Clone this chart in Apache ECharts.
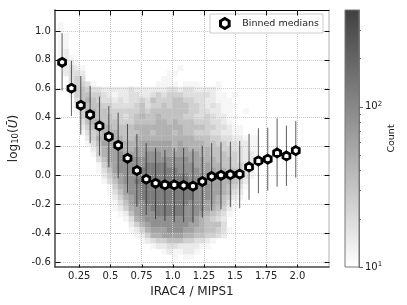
<!DOCTYPE html>
<html><head><meta charset="utf-8">
<style>html,body{margin:0;padding:0;background:#fff}#c{width:407px;height:305px;filter:blur(0.3px)}</style>
<script src="https://cdn.jsdelivr.net/npm/echarts@6/dist/echarts.min.js"></script></head>
<body><div id="c"></div>
<script>
const xTicks=[0.25,0.5,0.75,1.0,1.25,1.5,1.75,2.0];
const yTicks=[-0.6,-0.4,-0.2,0,0.2,0.4,0.6,0.8,1.0];
const medianX=[0.1125,0.1875,0.2625,0.3375,0.4125,0.4875,0.5625,0.6375,0.7125,0.7875,0.8625,0.9375,1.0125,1.0875,1.1625,1.2375,1.3125,1.3875,1.4625,1.5375,1.6125,1.6875,1.7625,1.8375,1.9125,1.9875];
const medianY=[0.783,0.603,0.485,0.42,0.342,0.268,0.208,0.118,0.033,-0.027,-0.055,-0.066,-0.066,-0.07,-0.075,-0.043,-0.008,0.0,0.005,0.008,0.058,0.10,0.112,0.155,0.134,0.171];
const errLow=[0.587,0.411,0.282,0.222,0.136,0.056,-0.02,-0.12,-0.217,-0.274,-0.304,-0.316,-0.325,-0.325,-0.328,-0.293,-0.244,-0.235,-0.221,-0.228,-0.17,-0.124,-0.106,-0.078,-0.073,-0.016];
const errHigh=[0.984,0.792,0.688,0.619,0.545,0.48,0.434,0.356,0.287,0.222,0.19,0.176,0.19,0.19,0.183,0.204,0.222,0.229,0.233,0.238,0.287,0.326,0.33,0.395,0.344,0.377];
const levelCounts=[0,12,15,19,25,33,44,60,85,125];
const densityRows=[
"1000000000000000000000000000000000000000",
"1000000000000000000000000000000000000000",
"1100000000000000000000000000000000000000",
"1100000000000000000000000000000000000000",
"1100000000000000000000000000000000000000",
"1200000000000000000000000000000000000000",
"1210000000000000000000000000000000000000",
"1221000000000000000000000000000000000000",
"0232100000000000000000100000000000000000",
"0233200000000000000011000000000000000000",
"0034300000000000000110000000000000000000",
"0034431000000000001111011100010000000000",
"0024543322222322222233233222210000000000",
"0014554432122332234344433333211010000000",
"0003565433232334354445544332211100000000",
"0002555544333345344545554432321110000000",
"0001466554444445455555554433221100100000",
"0000456555443456556555544334322110000000",
"0000356655544455556656555444332100000000",
"0000245666555566666666655554433211000000",
"0000134566655556656665655444332211000000",
"0000024667665566666666666555443322111000",
"0000013577766667777776766665544332211000",
"0000002467776677777776776666554433211000",
"0000001467787777888777777766555443221000",
"0000000357788888888888887776655543221000",
"0000000146788888999988888777665544321000",
"0000000135788889999999888877766554320000",
"0000000024678889999999998888776655310000",
"0000000013578899999999998887776654200000",
"0000000001467889999999998888776543100000",
"0000000001357889999999999888776532000000",
"0000000000246789999999999888765421000000",
"0000000000135788999999998887765310000000",
"0000000000124678899999988887654210000000",
"0000000000012578889999988876543100000000",
"0000000000001367888888888765432000000000",
"0000000000000246788888887765553000000000",
"0000000000000124677788877665543100000000",
"0000000000000012466777766554432000000000",
"0000000000000001234455544332100000000000",
"0000000000000000012233222211000000000000",
"0000000000000000000121122100000000000000",
"0000000000000000000001011000000000000000"];
const binX0=0.079, binW=0.04365, binY0=1.062, binH=0.0374;
const colorbarMinorTicks=[20,30,40,50,60,70,80,90,200,300];
const cbMin=10, cbMax=400;
function grayOf(c){const t=Math.log(c/cbMin)/Math.log(cbMax/cbMin);const g=Math.round(255-191*t);return `rgb(${g},${g},${g})`;}
const cells=[];
densityRows.forEach((row,r)=>{[...row].forEach((d,c)=>{const n=levelCounts[+d];if(n>0)cells.push([binX0+c*binW,binY0-r*binH,n]);});});
const hexagon='path://M0,-1 L0.866,-0.5 L0.866,0.5 L0,1 L-0.866,0.5 L-0.866,-0.5 Z';
const font='"DejaVu Sans"';
const xMin=0.055,xMax=2.254,yMin=-0.635,yMax=1.145;
const tickMarks=[
 ...xTicks.flatMap(v=>[[v,yMin,0,-3],[v,yMax,0,5]]),
 ...yTicks.flatMap(v=>[[xMin,v,5,0],[xMax,v,-5,0]])];
const chart=echarts.init(document.getElementById('c'),null,{renderer:'canvas'});
const baseX={type:'value',min:xMin,max:xMax,gridIndex:0,z:2,axisTick:{show:false},axisLine:{onZero:false},splitLine:{show:false}};
const baseY={type:'value',min:yMin,max:yMax,gridIndex:0,z:2,axisTick:{show:false},axisLine:{onZero:false},splitLine:{show:false}};
chart.setOption({
 animation:false,
 textStyle:{fontFamily:font},
 grid:[{left:52,top:10,width:277,height:257},{left:345,top:10,width:14,height:257}],
 xAxis:[
  {...baseX,position:'bottom',name:'IRAC4 / MIPS1',nameLocation:'middle',nameGap:13,
   nameTextStyle:{fontFamily:font,fontSize:12,color:'#222'},
   axisLine:{onZero:false,lineStyle:{color:'#444',width:1.5}},
   axisTick:{show:false,customValues:xTicks},
   axisLabel:{customValues:xTicks,margin:4,fontSize:10,color:'#222',fontFamily:font,formatter:v=>(v%0.5===0?v.toFixed(1):String(v))},
   splitLine:{show:true,lineStyle:{color:'#c8c8c8',type:[1,1],width:1}}},
  {...baseX,position:'top',
   axisLine:{onZero:false,lineStyle:{color:'#000',width:1}},
   axisLabel:{show:false}},
  {type:'category',gridIndex:1,data:['c'],show:false}
 ],
 yAxis:[
  {...baseY,position:'left',name:'{a|log}{s|10}{a|(}{i|Ū}{a|)}',nameLocation:'middle',nameGap:27,nameRotate:90,
   nameTextStyle:{rich:{a:{fontFamily:font,fontSize:12,color:'#222'},s:{fontFamily:font,fontSize:8.5,color:'#222',verticalAlign:'bottom',padding:[4,0,0,0]},i:{fontFamily:font,fontSize:12,fontStyle:'italic',color:'#222'}}},
   axisLine:{onZero:false,lineStyle:{color:'#444',width:1.5}},
   axisTick:{show:false,customValues:yTicks},
   axisLabel:{customValues:yTicks,margin:4,fontSize:10,color:'#222',fontFamily:font,formatter:v=>v.toFixed(1).replace('-0.0','0.0')},
   splitLine:{show:true,lineStyle:{color:'#c8c8c8',type:[1,1],width:1}}},
  {...baseY,position:'right',
   axisLine:{onZero:false,lineStyle:{color:'#ccc',width:1.5}},
   axisLabel:{show:false}},
  {type:'log',gridIndex:1,min:cbMin,max:cbMax,logBase:10,position:'right',name:'Count',nameLocation:'middle',nameGap:20,nameRotate:90,
   nameTextStyle:{fontFamily:font,fontSize:9.5,color:'#222'},
   axisLine:{show:true,onZero:false,lineStyle:{color:'#777',width:1}},
   axisTick:{show:false,customValues:[10,100]},
   splitLine:{show:false},minorTick:{show:false},
   axisLabel:{customValues:[10,100],margin:6,color:'#222',fontFamily:font,fontSize:10,
     formatter:v=>'10{s|'+Math.round(Math.log10(v))+'}',
     rich:{s:{fontSize:7,fontFamily:font,color:'#222',verticalAlign:'top',padding:[0,0,5,0]}}}}
 ],
 legend:{show:true,left:210,top:14,padding:[3,4,3,9],itemWidth:9,itemHeight:10,itemGap:0,borderColor:'#ccc',borderWidth:1,backgroundColor:'#fff',
  textStyle:{fontFamily:font,fontSize:9.5,color:'#222',padding:[0,0,0,8]},
  data:[{name:'Binned medians',icon:hexagon,itemStyle:{color:'#fff',borderColor:'#000',borderWidth:3}}]},
 series:[
  {type:'custom',name:'density',xAxisIndex:0,yAxisIndex:0,z:1,silent:true,data:cells,
   renderItem:(p,api)=>{const x=api.value(0),y=api.value(1);const a=api.coord([x,y]),b=api.coord([x+binW,y-binH]);
     return {type:'rect',shape:{x:a[0],y:a[1],width:b[0]-a[0]+0.4,height:b[1]-a[1]+0.4},style:{fill:grayOf(api.value(2))}};}},
  {type:'custom',name:'ticks',xAxisIndex:0,yAxisIndex:0,z:5,silent:true,data:tickMarks,
   renderItem:(p,api)=>{const a=api.coord([api.value(0),api.value(1)]);const x=Math.round(a[0])+0.5,y=Math.round(a[1])+0.5;
     return {type:'line',shape:{x1:x,y1:y,x2:x+api.value(2),y2:y+api.value(3)},style:{stroke:'#111',lineWidth:1}};}},
  {type:'custom',name:'errors',xAxisIndex:0,yAxisIndex:0,z:3,silent:true,data:medianX.map((x,i)=>[x,errLow[i],errHigh[i]]),
   renderItem:(p,api)=>{const a=api.coord([api.value(0),api.value(1)]),b=api.coord([api.value(0),api.value(2)]);
     return {type:'line',shape:{x1:a[0],y1:a[1],x2:b[0],y2:b[1]},style:{stroke:'rgba(40,40,40,0.75)',lineWidth:1}};}},
  {type:'scatter',name:'Binned medians',xAxisIndex:0,yAxisIndex:0,z:4,symbol:hexagon,symbolSize:8,symbolKeepAspect:true,
   itemStyle:{color:'#fff',borderColor:'#000',borderWidth:2.8,opacity:1},data:medianX.map((x,i)=>[x,medianY[i]])},
  {type:'custom',name:'colorbar',xAxisIndex:2,yAxisIndex:2,z:1,silent:true,data:[[cbMin,cbMax]],
   renderItem:(p,api)=>{const a=api.coord(['c',api.value(0)]),b=api.coord(['c',api.value(1)]);const s=p.coordSys;
     return {type:'rect',shape:{x:s.x,y:b[1],width:s.width,height:a[1]-b[1]},
       style:{fill:new echarts.graphic.LinearGradient(0,1,0,0,[{offset:0,color:'#fff'},{offset:1,color:'#404040'}]),stroke:'#777',lineWidth:1}};}},
  {type:'custom',name:'colorbarTicks',xAxisIndex:2,yAxisIndex:2,z:3,silent:true,clip:false,data:[...colorbarMinorTicks.map(v=>[0,v,2]),[0,10,4],[0,100,4]],
   encode:{y:1},
   renderItem:(p,api)=>{const a=api.coord(['c',api.value(1)]);const s=p.coordSys;
     return {type:'line',shape:{x1:s.x+s.width,y1:Math.round(a[1])+0.5,x2:s.x+s.width+api.value(2),y2:Math.round(a[1])+0.5},style:{stroke:'#666',lineWidth:1}};}}
 ]
});
</script></body></html>
